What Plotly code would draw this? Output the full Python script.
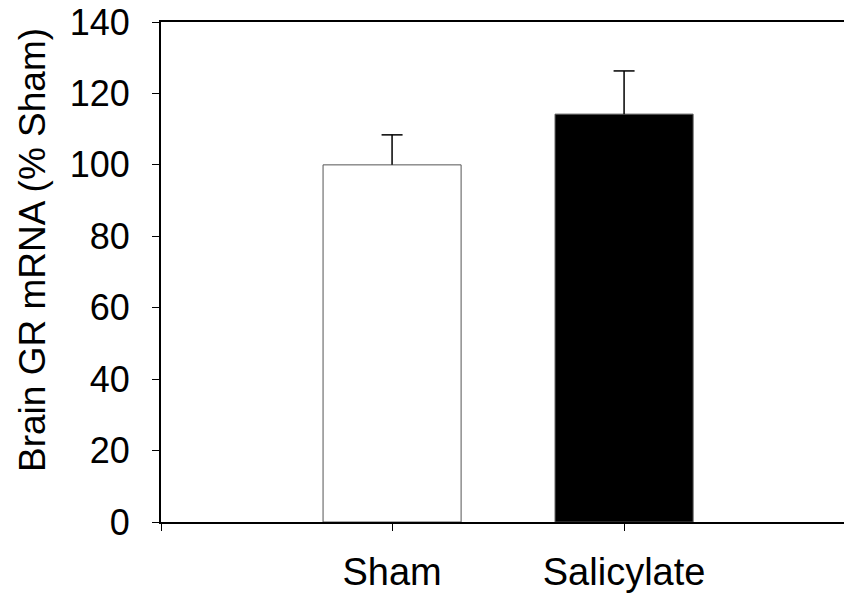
import plotly.graph_objects as go

categories = ["Sham", "Salicylate"]
means = [100, 114.2]
sem = [8.4, 12.1]
fill_colors = ["#ffffff", "#000000"]
y_ticks = [0, 20, 40, 60, 80, 100, 120, 140]
y_title = "Brain GR mRNA (% Sham)"

x_pos = list(range(len(categories)))
x_range = [-0.996, 2.06]
FONT = "Liberation Sans, Arial, sans-serif"

fig = go.Figure()
fig.add_trace(go.Bar(
    x=x_pos, y=means, width=0.595,
    marker=dict(color=fill_colors, line=dict(color="#555555", width=1)),
    showlegend=False, hoverinfo="skip",
))

# one-sided (upper) error bars
ex, ey = [], []
for xi, m, s in zip(x_pos, means, sem):
    ex += [xi, xi, None]
    ey += [m, m + s, None]
fig.add_trace(go.Scatter(
    x=ex, y=ey, mode="lines", line=dict(color="black", width=1.5),
    showlegend=False, hoverinfo="skip",
))
fig.add_trace(go.Scatter(
    x=x_pos, y=[m + s for m, s in zip(means, sem)], mode="markers",
    marker=dict(symbol="line-ew", size=15, line=dict(color="black", width=1.5)),
    showlegend=False, hoverinfo="skip",
))

PLOT_W = 870
fig.update_layout(
    width=PLOT_W, height=598,
    margin=dict(l=161, r=0, t=22, b=76),
    paper_bgcolor="white", plot_bgcolor="white",
    font=dict(family=FONT, size=36, color="black"),
    xaxis=dict(
        range=x_range, tickvals=[x_range[0]] + x_pos, ticktext=[""] + categories,
        tickfont=dict(size=38),
        showline=True, linecolor="black", linewidth=2, mirror=True,
        ticks="outside", ticklen=7, tickwidth=1, tickcolor="black",
        showgrid=False, zeroline=False, ticklabelstandoff=8,
    ),
    yaxis=dict(
        range=[0, 140], tickvals=y_ticks,
        showline=True, linecolor="black", linewidth=2,
        ticks="outside", ticklen=7, tickwidth=1, tickcolor="black",
        showgrid=False, zeroline=False, ticklabelstandoff=15,
    ),
    annotations=[dict(
        text=y_title, textangle=-90, showarrow=False,
        xref="paper", yref="paper", x=(33 - 161) / (PLOT_W - 161), y=0.544,
        xanchor="center", yanchor="middle", font=dict(size=37),
    )],
)

fig.write_html(
    "out.html",
    config={"displayModeBar": False},
    post_script="document.documentElement.style.overflow='hidden';document.body.style.margin='0';document.body.style.overflow='hidden';",
)
